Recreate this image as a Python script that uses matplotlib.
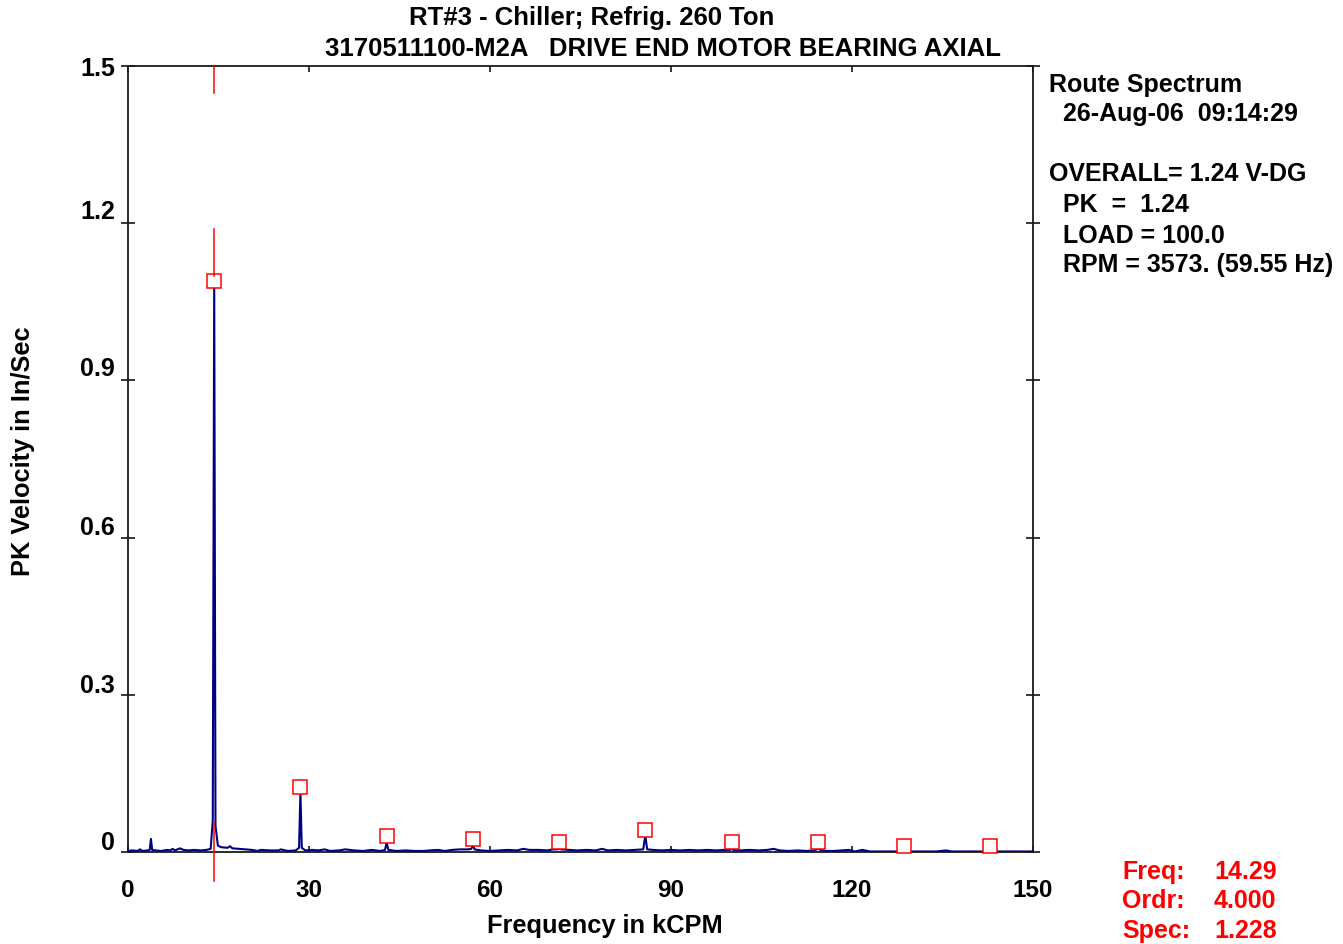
import matplotlib
matplotlib.use('Agg')
import matplotlib.pyplot as plt
from matplotlib.transforms import blended_transform_factory, offset_copy

# ---------------- data ----------------
spectrum = [
    (0.0, 0.002), (0.8, 0.003), (1.6, 0.002), (2.0, 0.005), (2.4, 0.002), (3.2, 0.003), (3.6, 0.004), (3.8, 0.025), (4.0, 0.004), (4.6, 0.003),
    (5.5, 0.002), (6.5, 0.004), (7.0, 0.003), (7.4, 0.006), (7.8, 0.003), (8.6, 0.007), (9.2, 0.004), (10.0, 0.003), (11.0, 0.004), (12.0, 0.003),
    (13.0, 0.004), (13.7, 0.006), (14.05, 0.06), (14.29, 1.085), (14.5, 0.05), (14.9, 0.012), (15.5, 0.009), (16.5, 0.008), (16.9, 0.011), (17.3, 0.007),
    (18.5, 0.006), (19.5, 0.005), (20.5, 0.004), (21.5, 0.002), (22.0, 0.004), (23.5, 0.003), (25.0, 0.003), (25.3, 0.005), (26.5, 0.002), (27.8, 0.003),
    (28.35, 0.008), (28.58, 0.115), (28.8, 0.008), (29.4, 0.003), (30.5, 0.004), (31.5, 0.003), (32.6, 0.005), (33.5, 0.002), (35.0, 0.003), (36.0, 0.005),
    (37.5, 0.003), (39.0, 0.002), (40.4, 0.004), (41.8, 0.002), (42.6, 0.004), (42.87, 0.018), (43.15, 0.004), (44.5, 0.002), (46.0, 0.003), (47.5, 0.002),
    (49.0, 0.002), (50.0, 0.003), (51.4, 0.004), (52.5, 0.002), (53.7, 0.004), (55.0, 0.005), (56.3, 0.005), (56.9, 0.006), (57.16, 0.013), (57.45, 0.005),
    (58.5, 0.003), (60.0, 0.002), (61.5, 0.003), (63.0, 0.004), (64.5, 0.003), (65.5, 0.006), (66.5, 0.004), (68.0, 0.004), (69.5, 0.003), (70.5, 0.005),
    (71.2, 0.005), (71.45, 0.007), (71.7, 0.005), (73.0, 0.004), (74.5, 0.003), (76.0, 0.004), (77.5, 0.003), (78.6, 0.006), (79.5, 0.003), (81.0, 0.004),
    (82.5, 0.003), (84.0, 0.004), (85.4, 0.005), (85.74, 0.032), (86.05, 0.005), (87.0, 0.004), (88.5, 0.003), (90.0, 0.004), (91.5, 0.003), (93.0, 0.004),
    (94.5, 0.003), (96.0, 0.004), (97.5, 0.003), (99.0, 0.004), (99.8, 0.004), (100.03, 0.007), (100.3, 0.004), (101.5, 0.003), (103.0, 0.004), (104.5, 0.003),
    (106.0, 0.004), (107.0, 0.006), (108.0, 0.003), (109.5, 0.002), (111.0, 0.003), (112.5, 0.002), (113.8, 0.003), (114.32, 0.006), (114.8, 0.004), (115.5, 0.002),
    (117.0, 0.002), (119.5, 0.004), (120.5, 0.001), (121.7, 0.004), (123.0, 0.001), (126.0, 0.001), (128.6, 0.001), (131.0, 0.001), (134.0, 0.001), (135.6, 0.003),
    (136.5, 0.001), (140.0, 0.001), (143.0, 0.001), (147.0, 0.001), (150.0, 0.001),
]
harmonic_freqs = [14.29, 28.58, 42.87, 57.16, 71.45, 85.74, 100.03, 114.32, 128.61, 142.90]
harmonic_amps = [1.089, 0.124, 0.031, 0.025, 0.019, 0.042, 0.019, 0.019, 0.011, 0.011]
cursor_freq = 14.29
cursor_segments = [(1.5, 1.448), (1.188, 1.10), (0.055, -0.055)]

x_ticks = [0, 30, 60, 90, 120, 150]
x_tick_labels = ['0', '30', '60', '90', '120', '150']
y_ticks = [0.0, 0.3, 0.6, 0.9, 1.2, 1.5]
y_tick_labels = ['0', '0.3', '0.6', '0.9', '1.2', '1.5']
y_label_shift_px = [10, 10, 11, 12, 12, -2]

title_lines = ['RT#3 - Chiller; Refrig. 260 Ton',
               '3170511100-M2A   DRIVE END MOTOR BEARING AXIAL']
info_lines = [('Route Spectrum', 1049, 85), ('26-Aug-06  09:14:29', 1063, 114),
              ('OVERALL= 1.24 V-DG', 1049, 174), ('PK  =  1.24', 1063, 205),
              ('LOAD = 100.0', 1063, 236), ('RPM = 3573. (59.55 Hz)', 1063, 265)]
cursor_labels = ['Freq:', 'Ordr:', 'Spec:']
cursor_values = ['14.29', '4.000', '1.228']

# ---------------- figure ----------------
plt.rcParams['font.family'] = ['Liberation Sans', 'DejaVu Sans']
plt.rcParams['font.weight'] = 'bold'

W, H = 1343, 945
fig = plt.figure(figsize=(W / 100, H / 100), dpi=100)
ax = fig.add_axes([128 / W, 1 - 853 / H, (1033 - 128) / W, (853 - 67) / H])

freqs = [p[0] for p in spectrum]
amps = [p[1] for p in spectrum]
ax.plot(freqs, amps, color='#000080', lw=1.5, zorder=3)
ax.plot(harmonic_freqs, harmonic_amps, 's', ms=9.4, mfc='white', mec='red',
        mew=1.1, zorder=4, clip_on=False)
for y0, y1 in cursor_segments:
    ax.plot([cursor_freq, cursor_freq], [y0, y1], color='red', lw=1.1,
            zorder=5, clip_on=False)

ax.set_xlim(0, 150)
ax.set_ylim(0, 1.5)
for s in ax.spines.values():
    s.set_linewidth(1.3)
    s.set_color('#1a1a1a')

ax.set_xticks(x_ticks)
ax.set_xticklabels(x_tick_labels)
ax.tick_params(axis='x', direction='in', length=4.5, width=1.1, top=True,
               bottom=True, pad=19, labelsize=17.5)
ax.set_yticks(y_ticks)
ax.set_yticklabels([])
ax.tick_params(axis='y', direction='inout', length=10, width=1.1, left=True,
               right=True)

trans = blended_transform_factory(ax.transAxes, ax.transData)
for yv, lab, sh in zip(y_ticks, y_tick_labels, y_label_shift_px):
    t = offset_copy(trans, fig=fig, x=-13, y=sh, units='dots')
    ax.text(0, yv, lab, transform=t, ha='right', va='center', fontsize=18,
            fontweight='bold')

fig.text(23 / W, 1 - 451 / H, 'PK Velocity in In/Sec', rotation=90,
         ha='center', va='center', fontsize=18.3, fontweight='bold')
fig.text(605 / W, 1 - 926 / H, 'Frequency in kCPM', ha='center', va='center',
         fontsize=18.3, fontweight='bold')

fig.text(592 / W, 1 - 18 / H, title_lines[0], ha='center', va='center',
         fontsize=18.5, fontweight='bold')
fig.text(663 / W, 1 - 49 / H, title_lines[1], ha='center', va='center',
         fontsize=18.5, fontweight='bold')

for txt, xp, yp in info_lines:
    fig.text(xp / W, 1 - yp / H, txt, ha='left', va='center', fontsize=18,
             fontweight='bold')

for i, (lab, val) in enumerate(zip(cursor_labels, cursor_values)):
    yp = 872 + i * 29.5
    fig.text(1122 / W, 1 - yp / H, lab, ha='left', va='center', fontsize=18,
             fontweight='bold', color='red')
    fig.text(1214 / W, 1 - yp / H, val, ha='left', va='center', fontsize=18,
             fontweight='bold', color='red')

fig.savefig('out.png', dpi=100)
